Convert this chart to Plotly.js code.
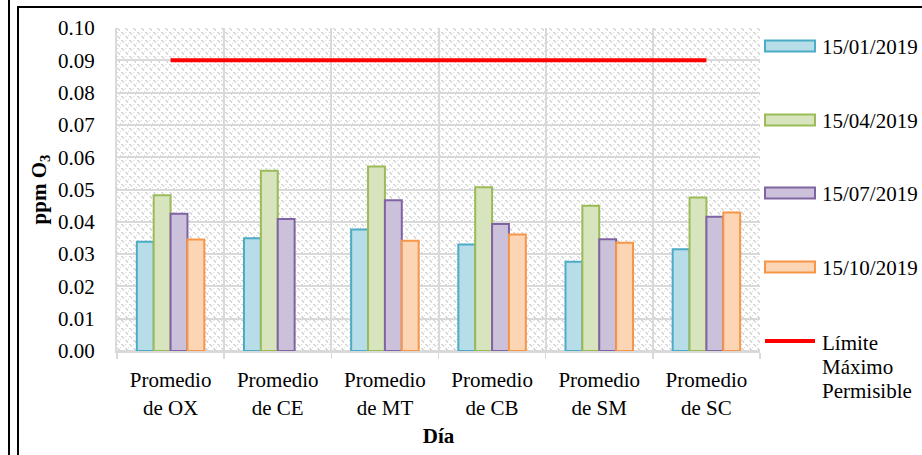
<!DOCTYPE html>
<html>
<head>
<meta charset="utf-8">
<script src="https://cdn.plot.ly/plotly-3.0.1.min.js"></script>
<style>
  html, body { margin: 0; padding: 0; background: #ffffff; }
  #wrap { position: relative; width: 922px; height: 455px; overflow: hidden; background: #ffffff; }
  #frameA { position: absolute; left: 8px; top: 0; width: 2px; height: 455px; background: #000; }
  #frameB { position: absolute; left: 17px; top: 6px; width: 920px; height: 460px; border-left: 2px solid #000; border-top: 2px solid #000; }
  #chart { position: absolute; left: 0; top: 0; width: 922px; height: 455px; }
</style>
</head>
<body>
<div id="wrap">
  <div id="frameA"></div>
  <div id="frameB"></div>
  <div id="chart"></div>
</div>
<script>
// ---- data ----
const categorias = ["Promedio de OX", "Promedio de CE", "Promedio de MT", "Promedio de CB", "Promedio de SM", "Promedio de SC"];
const fechas = ["15/01/2019", "15/04/2019", "15/07/2019", "15/10/2019"];
const serie_15_01 = [0.0338, 0.0349, 0.0376, 0.0330, 0.0276, 0.0315];
const serie_15_04 = [0.0482, 0.0558, 0.0571, 0.0507, 0.0450, 0.0475];
const serie_15_07 = [0.0425, 0.0409, 0.0467, 0.0393, 0.0346, 0.0416];
const serie_15_10 = [0.0345, null, 0.0341, 0.0361, 0.0335, 0.0429];
const limite = [0.09, 0.09, 0.09, 0.09, 0.09, 0.09];
const limiteNombre = "Límite Máximo Permisible";
const yTicks = [0.00, 0.01, 0.02, 0.03, 0.04, 0.05, 0.06, 0.07, 0.08, 0.09, 0.10];

// ---- styling ----
const fills = ["#b7dde8", "#d7e4bd", "#ccc1da", "#fcd5b5"];
const borders = ["#4bacc6", "#9bbb59", "#8064a2", "#f79646"];
const series = [serie_15_01, serie_15_04, serie_15_07, serie_15_10];
const FONT = "Liberation Serif";

const L = 117, R = 760, T = 28, B = 351, W = 922, H = 455;
const px = x => (x - L) / (R - L);
const py = y => (B - y) / (B - T);

const traces = series.map((s, i) => ({
  type: "bar",
  name: fechas[i],
  x: categorias,
  y: s,
  marker: { color: fills[i], line: { color: borders[i], width: 2 } },
  showlegend: false,
  hoverinfo: "x+y+name"
}));
traces.push({
  type: "scatter",
  mode: "lines",
  name: limiteNombre,
  x: categorias,
  y: limite,
  line: { color: "#ff0000", width: 4 },
  showlegend: false
});

// hatched background pattern
const pw = R - L, ph = B - T;
const svg = `<svg xmlns='http://www.w3.org/2000/svg' width='${pw}' height='${ph}'>` +
  `<defs><pattern id='p' width='8' height='8' patternUnits='userSpaceOnUse'>` +
  `<path d='M0 0.5h2M1 1.5h2M2 2.5h1M4 4.5h2M5 5.5h2M6 6.5h1M0 4.5h1M3 7.5h1' stroke='#d6d6d6' stroke-width='1' fill='none'/>` +
  `</pattern></defs><rect width='100%' height='100%' fill='#ffffff'/><rect width='100%' height='100%' fill='url(#p)'/></svg>`;
const bgSrc = "data:image/svg+xml;charset=utf-8," + encodeURIComponent(svg);

// manual legend (shapes + annotations), built from the series names
const shapes = [];
const annotations = [];
const legendY = [46, 120, 193, 267];
fechas.forEach((f, i) => {
  shapes.push({
    type: "rect", xref: "paper", yref: "paper",
    x0: px(765), x1: px(815), y0: py(legendY[i] + 5.5), y1: py(legendY[i] - 5.5),
    fillcolor: fills[i], line: { color: borders[i], width: 2 }
  });
  annotations.push({
    xref: "paper", yref: "paper", x: px(820), y: py(legendY[i] + 1),
    xanchor: "left", yanchor: "middle", showarrow: false,
    text: f, font: { family: FONT, size: 21, color: "#000" }
  });
});
shapes.push({
  type: "line", xref: "paper", yref: "paper",
  x0: px(765), x1: px(815), y0: py(341), y1: py(341),
  line: { color: "#ff0000", width: 4 }
});
limiteNombre.split(" ").forEach((w, k) => {
  annotations.push({
    xref: "paper", yref: "paper", x: px(820), y: py(343 + k * 24),
    xanchor: "left", yanchor: "middle", showarrow: false,
    text: w, font: { family: FONT, size: 21, color: "#000" }
  });
});

const layout = {
  width: W, height: H,
  margin: { l: L, r: W - R, t: T, b: H - B, pad: 0 },
  paper_bgcolor: "rgba(0,0,0,0)",
  plot_bgcolor: "rgba(0,0,0,0)",
  font: { family: FONT, size: 21, color: "#000" },
  barmode: "group",
  bargap: 0.37,
  bargroupgap: 0,
  showlegend: false,
  xaxis: {
    type: "category",
    tickson: "boundaries",
    ticks: "outside", ticklen: 6, tickcolor: "#d9d9d9", tickwidth: 1.5,
    tickvals: categorias,
    ticktext: categorias.map(c => c.replace(" de ", "<br>de ")),
    ticklabelstandoff: 9,
    showgrid: true, gridcolor: "#d9d9d9", gridwidth: 2,
    showline: true, linecolor: "#d9d9d9", linewidth: 2,
    tickfont: { family: FONT, size: 21, color: "#000" },
    title: { text: "<b>Día</b>", font: { family: FONT, size: 21, color: "#000" }, standoff: 10 },
    fixedrange: true
  },
  yaxis: {
    range: [0, 0.1],
    tickvals: yTicks,
    tickformat: ".2f",
    ticks: "",
    ticklabelstandoff: 16,
    showgrid: true, gridcolor: "#d9d9d9", gridwidth: 2,
    zeroline: true, zerolinecolor: "#d9d9d9", zerolinewidth: 2,
    showline: true, linecolor: "#d9d9d9", linewidth: 2,
    tickfont: { family: FONT, size: 21, color: "#000" },
    title: { text: "<b>ppm O<sub>3</sub></b>", font: { family: FONT, size: 21, color: "#000" }, standoff: 6 },
    fixedrange: true
  },
  images: [{
    source: bgSrc, xref: "paper", yref: "paper",
    x: 0, y: 1, sizex: 1, sizey: 1, xanchor: "left", yanchor: "top",
    sizing: "stretch", layer: "below"
  }],
  shapes: shapes,
  annotations: annotations
};

Plotly.newPlot("chart", traces, layout, { displayModeBar: false, staticPlot: true });
</script>
</body>
</html>
